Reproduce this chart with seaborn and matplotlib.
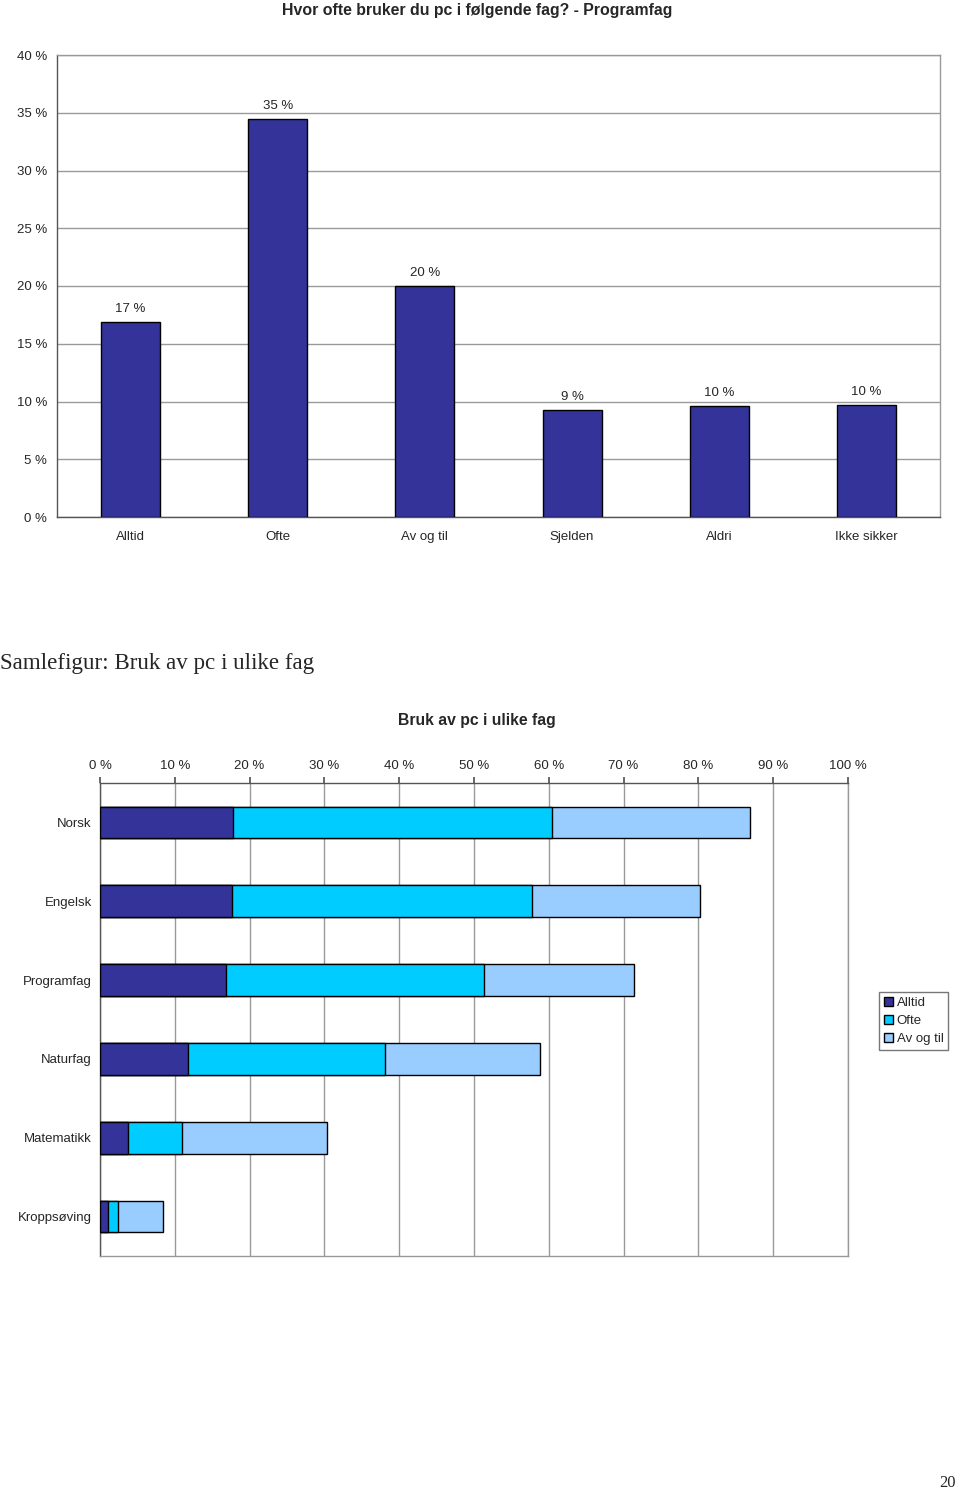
import matplotlib
matplotlib.use("Agg")
import matplotlib.pyplot as plt
import seaborn as sns
import pandas as pd
import numpy as np
from matplotlib.patches import Patch

sns.set_theme(style="white")
plt.rcParams['font.family'] = ['Liberation Sans', 'DejaVu Sans']

# ---- data: top chart ----
top_categories = ["Alltid", "Ofte", "Av og til", "Sjelden", "Aldri", "Ikke sikker"]
top_values = [16.9, 34.5, 20.0, 9.3, 9.6, 9.7]
top_labels = ["17 %", "35 %", "20 %", "9 %", "10 %", "10 %"]
top_yticks = [0, 5, 10, 15, 20, 25, 30, 35, 40]

# ---- data: bottom chart ----
subjects = ["Norsk", "Engelsk", "Programfag", "Naturfag", "Matematikk", "Kroppsøving"]
alltid = [17.8, 17.6, 16.9, 11.8, 3.7, 1.1]
ofte = [42.6, 40.2, 34.5, 26.3, 7.3, 1.3]
av_og_til = [26.5, 22.4, 20.0, 20.7, 19.3, 6.0]
series_names = ["Alltid", "Ofte", "Av og til"]
bottom_xticks = [0, 10, 20, 30, 40, 50, 60, 70, 80, 90, 100]

c_dark = "#333399"
c_cyan = "#00CCFF"
c_light = "#99CCFF"
grid_c = "#9a9a9a"

W, H = 960, 1491
fig = plt.figure(figsize=(W / 100, H / 100), dpi=100)

def ax_rect(l, t, r, b):
    return [l / W, 1 - b / H, (r - l) / W, (b - t) / H]

# ---------------- top chart ----------------
ax1 = fig.add_axes(ax_rect(57, 55, 940, 517))
df1 = pd.DataFrame({"cat": top_categories, "val": top_values})
sns.barplot(data=df1, x="cat", y="val", order=top_categories, color=c_dark,
            saturation=1, width=0.4, edgecolor="black", linewidth=1, ax=ax1, zorder=3)
ax1.set_ylim(0, 40)
ax1.set_xlim(-0.5, len(top_categories) - 0.5)
ax1.set_yticks(top_yticks)
ax1.set_yticklabels([f"{v} %" for v in top_yticks], fontsize=9.5)
ax1.yaxis.grid(True, color=grid_c, linewidth=1, zorder=0)
ax1.set_axisbelow(True)
ax1.set_xlabel("")
ax1.set_ylabel("")
ax1.tick_params(axis="x", which="major", length=0, labelsize=9.5, pad=10)
ax1.set_xticks(np.arange(-0.5, len(top_categories) + 0.5, 1), minor=True)
ax1.tick_params(axis="x", which="minor", length=4, color="#555555", direction="out")
ax1.tick_params(axis="y", length=4, color="#555555", direction="out", pad=3)
for s in ["top", "right"]:
    ax1.spines[s].set_color(grid_c)
for s in ["left", "bottom"]:
    ax1.spines[s].set_color("#555555")
for s in ax1.spines.values():
    s.set_linewidth(1)
for i, (v, lab) in enumerate(zip(top_values, top_labels)):
    ax1.text(i, v + 0.6, lab, ha="center", va="bottom", fontsize=9.5)
fig.text(477.5 / W, 1 - 10 / H, "Hvor ofte bruker du pc i følgende fag? - Programfag",
         ha="center", va="center", fontsize=11.4, fontweight="bold")

# ---------------- middle heading ----------------
fig.text(0 / W, 1 - 664 / H, "Samlefigur: Bruk av pc i ulike fag", ha="left", va="center",
         fontsize=16.6, family=["Liberation Serif", "DejaVu Serif"])

# ---------------- bottom chart ----------------
ax2 = fig.add_axes(ax_rect(100, 783, 848, 1256))
cum1 = np.array(alltid)
cum2 = cum1 + np.array(ofte)
cum3 = cum2 + np.array(av_og_til)
for cum, col in [(cum3, c_light), (cum2, c_cyan), (cum1, c_dark)]:
    d = pd.DataFrame({"subj": subjects, "val": cum})
    sns.barplot(data=d, x="val", y="subj", order=subjects, orient="h", color=col,
                saturation=1, width=0.4, edgecolor="black", linewidth=1, ax=ax2, zorder=3)
ax2.set_xlim(0, 100)
ax2.set_ylim(len(subjects) - 0.5, -0.5)
ax2.xaxis.tick_top()
ax2.set_xticks(bottom_xticks)
ax2.set_xticklabels([f"{v} %" for v in bottom_xticks], fontsize=9.5)
ax2.xaxis.grid(True, color=grid_c, linewidth=1, zorder=0)
ax2.set_axisbelow(True)
ax2.set_xlabel("")
ax2.set_ylabel("")
ax2.tick_params(axis="x", length=4, color="#555555", direction="out", pad=4)
ax2.tick_params(axis="y", which="major", length=0, labelsize=9.5, pad=6)
ax2.set_yticks(np.arange(-0.5, len(subjects) + 0.5, 1), minor=True)
ax2.tick_params(axis="y", which="minor", length=4, color="#555555", direction="out")
for s in ["bottom", "right"]:
    ax2.spines[s].set_color(grid_c)
for s in ["left", "top"]:
    ax2.spines[s].set_color("#555555")
for s in ax2.spines.values():
    s.set_linewidth(1)
fig.text(477 / W, 1 - 720 / H, "Bruk av pc i ulike fag", ha="center", va="center",
         fontsize=11.3, fontweight="bold")

handles = [Patch(facecolor=c, edgecolor="black", linewidth=1) for c in [c_dark, c_cyan, c_light]]
leg = fig.legend(handles, series_names, loc="upper left",
                 bbox_to_anchor=(879 / W, 1 - 992 / H), fontsize=9.5, frameon=True,
                 fancybox=False, edgecolor="#555555", handlelength=0.7, handleheight=0.7,
                 handletextpad=0.3, borderpad=0.35, labelspacing=0.45, borderaxespad=0)
leg.get_frame().set_linewidth(1)

# page number
fig.text(948 / W, 1 - 1483 / H, "20", ha="center", va="center", fontsize=12,
         family=["Liberation Serif", "DejaVu Serif"])

fig.savefig("out.png", dpi=100)
